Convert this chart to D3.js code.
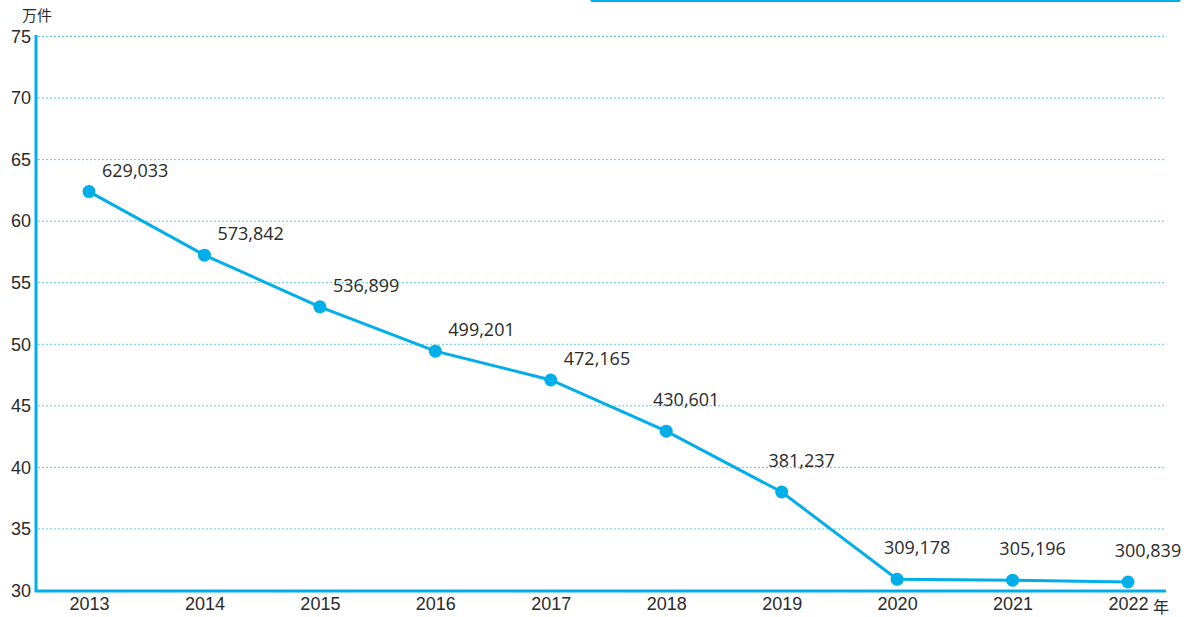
<!DOCTYPE html>
<html>
<head>
<meta charset="utf-8">
<script src="https://cdn.jsdelivr.net/npm/d3@7"></script>
<style>
  body { margin: 0; background: #fff; }
  svg { display: block; font-family: "Open Sans", "Noto Sans", sans-serif; }
</style>
</head>
<body>
<svg id="chart" width="1191" height="617"></svg>
<script>
// years on the x axis
var years = [2013, 2014, 2015, 2016, 2017, 2018, 2019, 2020, 2021, 2022];
// plotted values in 万件
var values = [62.36, 57.2, 53.0, 49.4, 47.06, 42.9, 37.96, 30.87, 30.8, 30.65];
// value labels as printed on the chart
var labels = ["629,033", "573,842", "536,899", "499,201", "472,165",
              "430,601", "381,237", "309,178", "305,196", "300,839"];
var yTicks = [30, 35, 40, 45, 50, 55, 60, 65, 70, 75];
var yUnit = "万件";
var xUnit = "年";

var blue = "#00aeea";
var gridBlue = "#5cc8ef";
var textColor = "#2a2a2a";

var svg = d3.select("#chart");

var x = d3.scaleLinear().domain([2013, 2022]).range([89, 1128]);
var y = d3.scaleLinear().domain([30, 75]).range([590, 36]);

// cropped frame edge at the top right
svg.append("line")
    .attr("x1", 592).attr("x2", 1179)
    .attr("y1", 0.5).attr("y2", 0.5)
    .attr("stroke", blue)
    .attr("stroke-width", 3)
    .attr("stroke-linecap", "round");

// dotted grid lines
svg.append("g")
    .selectAll("line")
    .data(yTicks.filter(function(d) { return d > 30; }))
    .enter()
    .append("line")
    .attr("x1", 38).attr("x2", 1165)
    .attr("y1", function(d) { return y(d) + 0.5; })
    .attr("y2", function(d) { return y(d) + 0.5; })
    .attr("stroke", gridBlue)
    .attr("stroke-width", 1)
    .attr("stroke-dasharray", "2,2");

// y axis
var yAxis = svg.append("g")
    .attr("transform", "translate(36,0)")
    .call(d3.axisLeft(y).tickValues(yTicks).tickSize(0).tickPadding(5));
yAxis.select(".domain").remove();
yAxis.selectAll("text")
    .attr("fill", textColor)
    .style("font-size", "18px")
    .attr("dy", "0.35em");

svg.append("line")
    .attr("x1", 36).attr("x2", 36)
    .attr("y1", 35).attr("y2", 592)
    .attr("stroke", blue)
    .attr("stroke-width", 3);

// x axis
var xAxis = svg.append("g")
    .attr("transform", "translate(0,591)")
    .call(d3.axisBottom(x).tickValues(years).tickFormat(d3.format("d")).tickSize(0).tickPadding(6));
xAxis.select(".domain").remove();
xAxis.selectAll("text")
    .attr("fill", textColor)
    .style("font-size", "18px");

svg.append("line")
    .attr("x1", 35).attr("x2", 1166)
    .attr("y1", 591).attr("y2", 591)
    .attr("stroke", blue)
    .attr("stroke-width", 3);

// unit labels
svg.append("text")
    .attr("x", 22).attr("y", 21)
    .attr("fill", textColor)
    .style("font-family", "'Noto Sans CJK SC', sans-serif")
    .style("font-size", "15px")
    .text(yUnit);

svg.append("text")
    .attr("x", 1153).attr("y", 613)
    .attr("fill", textColor)
    .style("font-family", "'Noto Sans CJK SC', sans-serif")
    .style("font-size", "16px")
    .text(xUnit);

// line and points
var pts = years.map(function(d, i) { return {year: d, value: values[i], label: labels[i], i: i}; });

svg.append("path")
    .datum(pts)
    .attr("fill", "none")
    .attr("stroke", blue)
    .attr("stroke-width", 3)
    .attr("d", d3.line()
        .x(function(d) { return x(d.year); })
        .y(function(d) { return y(d.value); }));

svg.append("g")
    .selectAll("circle")
    .data(pts)
    .enter()
    .append("circle")
    .attr("cx", function(d) { return x(d.year); })
    .attr("cy", function(d) { return y(d.value); })
    .attr("r", 6.5)
    .attr("fill", blue);

// value labels: upper right for the first years, centred above later on
svg.append("g")
    .selectAll("text")
    .data(pts)
    .enter()
    .append("text")
    .attr("x", function(d) { return d.i < 5 ? x(d.year) + 13 : x(d.year) + 20; })
    .attr("y", function(d) { return d.i < 5 ? y(d.value) - 15 : y(d.value) - 25; })
    .attr("text-anchor", function(d) { return d.i < 5 ? "start" : "middle"; })
    .attr("fill", textColor)
    .style("font-size", "18px")
    .text(function(d) { return d.label; });
</script>
</body>
</html>
